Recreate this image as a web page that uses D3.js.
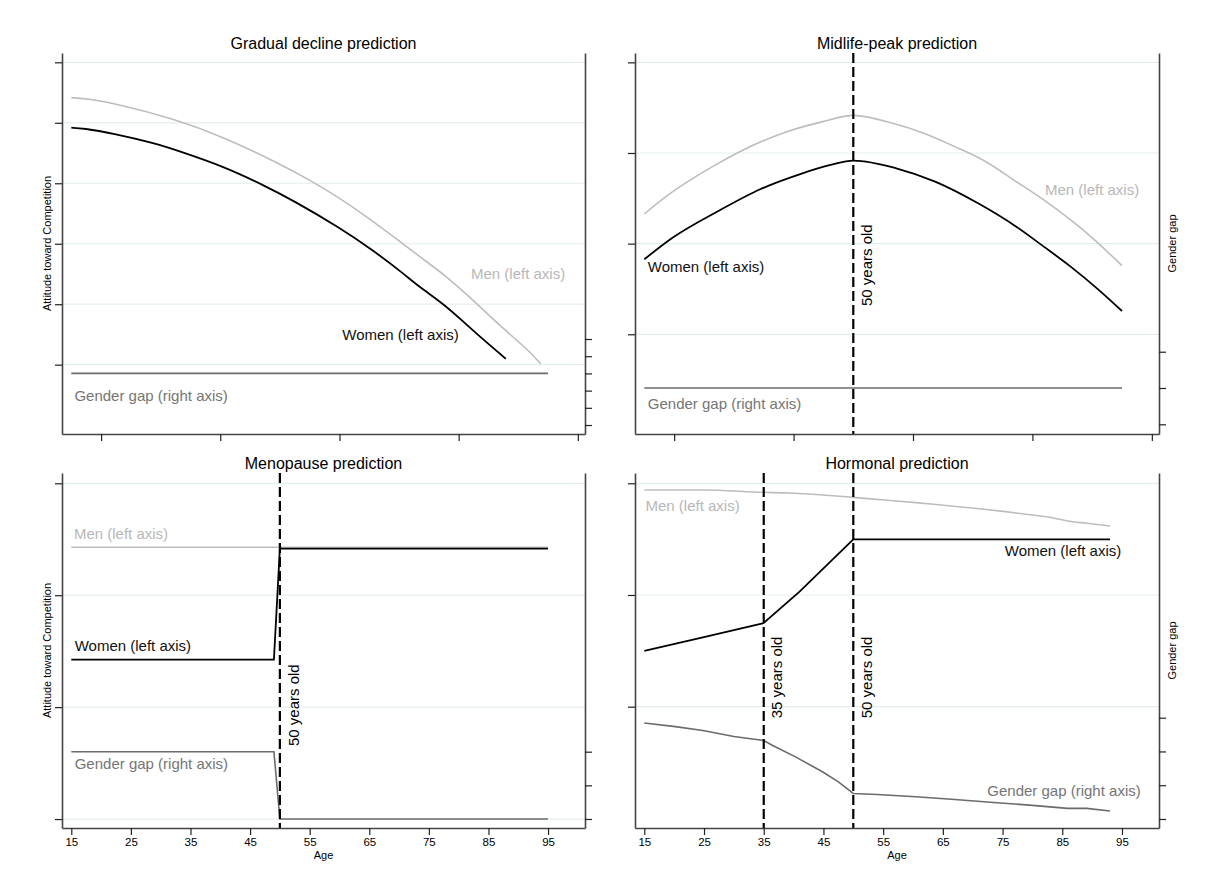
<!DOCTYPE html>
<html><head><meta charset="utf-8">
<script src="https://cdn.jsdelivr.net/npm/d3@7"></script>
<style>
body{margin:0;background:#fff}
svg{display:block}
text{font-family:"Liberation Sans",Arial,Helvetica,sans-serif}
</style>
</head><body>
<svg id="chart" width="1212" height="885"></svg>
<script>
// ---------------- DATA ----------------
// Gradual decline prediction
const gradMenAge   = [15, 18, 22.6, 32.0, 40.7, 49.8, 55.0, 59.5, 64.7, 69.3, 73.8, 78.0, 82.9, 87.4, 91.7, 93.8];
const gradMenVal   = [4.416, 4.394, 4.311, 4.074, 3.760, 3.330, 3.054, 2.790, 2.440, 2.100, 1.760, 1.460, 1.025, 0.601, 0.242, 0.011];
const gradWomenAge = [15, 17, 21.9, 29.1, 32.9, 40.7, 47.2, 52.4, 60.2, 65.4, 70.6, 73.2, 77.7, 80.9, 84.2, 87.9];
const gradWomenVal = [3.919, 3.910, 3.826, 3.660, 3.539, 3.274, 2.971, 2.707, 2.255, 1.907, 1.520, 1.300, 0.987, 0.700, 0.408, 0.099];
const gradGapAge   = [15, 95];
const gradGapVal   = [3, 3];

// Midlife-peak prediction
const midMenAge   = [15, 19, 26.7, 31.9, 38.4, 44.9, 50, 56.6, 61.8, 67.0, 72.2, 77.3, 81.9, 86.4, 90.3, 95];
const midMenVal   = [1.327, 1.537, 1.860, 2.044, 2.224, 2.346, 2.415, 2.327, 2.217, 2.070, 1.904, 1.684, 1.482, 1.261, 1.048, 0.757];
const midWomenAge = [15, 19.6, 27.4, 34.5, 41.0, 46.2, 50, 57.2, 63.7, 70.9, 77.3, 81.9, 86.4, 91.0, 95];
const midWomenVal = [0.827, 1.059, 1.360, 1.603, 1.765, 1.868, 1.915, 1.831, 1.684, 1.445, 1.187, 0.967, 0.746, 0.496, 0.257];
const midGapAge   = [15, 95];
const midGapVal   = [1, 1];

// Menopause prediction
const menoMenAge   = [15, 95];
const menoMenVal   = [2.428, 2.428];
const menoWomenAge = [15, 49, 50, 95];
const menoWomenVal = [1.424, 1.424, 2.416, 2.416];
const menoGapAge   = [15, 49, 50, 95];
const menoGapVal   = [1, 1, 0, 0];

// Hormonal prediction
const hormMenAge   = [15, 24.8, 34.9, 39.1, 44.9, 50, 55.3, 60.5, 65.1, 70.3, 75.5, 80, 83.3, 85.9, 89.1, 93];
const hormMenVal   = [1.940, 1.940, 1.919, 1.913, 1.895, 1.874, 1.850, 1.827, 1.803, 1.776, 1.746, 1.716, 1.692, 1.662, 1.642, 1.618];
const hormWomenAge = [15, 24.8, 35, 41, 50, 93];
const hormWomenVal = [0.499, 0.621, 0.749, 1.030, 1.498, 1.498];
const hormGapAge   = [15, 20.2, 24.8, 30, 35, 36.5, 40.4, 44.9, 47.5, 50, 54, 60.5, 67, 73.5, 80, 85.9, 89.1, 93];
const hormGapVal   = [2.843, 2.735, 2.618, 2.441, 2.324, 2.176, 1.833, 1.392, 1.098, 0.755, 0.725, 0.657, 0.578, 0.490, 0.402, 0.314, 0.314, 0.235];

// Axis ticks
const topAgeTicks    = [20, 40, 60, 80, 100];
const bottomAgeTicks = [15, 25, 35, 45, 55, 65, 75, 85, 95];
const gradLeftTicks  = [0, 1, 2, 3, 4, 5];
const gradRightTicks = [0, 1, 2, 3, 4, 5];
const midLeftTicks   = [0, 1, 2, 3];
const midRightTicks  = [0, 1, 2];
const menoLeftTicks  = [0, 1, 2, 3];
const menoRightTicks = [0, 0.5, 1];
const hormLeftTicks  = [0, 1, 2];
const hormRightTicks = [0, 1, 2, 3];

// Texts
const titles = ["Gradual decline prediction", "Midlife-peak prediction", "Menopause prediction", "Hormonal prediction"];
const menLabel = "Men (left axis)", womenLabel = "Women (left axis)", gapLabel = "Gender gap (right axis)";
const leftAxisTitle = "Attitude toward Competition", rightAxisTitle = "Gender gap", xAxisTitle = "Age";

// ---------------- LAYOUT ----------------
const ageDomain = [13.44, 101.2];
const COL = { men: "#bdbdbd", women: "#000", gap: "#6b6b6b", axis: "#444", grid: "#e3edef" };

const zip = (a, b) => a.map((v, i) => [v, b[i]]);

const panels = [
  { title: titles[0], box: {l: 62, r: 585, t: 53, b: 434},
    yL: [-1.146, 5.154], yR: [-0.523, 21.63], lt: gradLeftTicks, rt: gradRightTicks,
    men: zip(gradMenAge, gradMenVal), women: zip(gradWomenAge, gradWomenVal), gap: zip(gradGapAge, gradGapVal),
    curve: d3.curveBasis, menCurve: d3.curveBasis, xt: topAgeTicks, xlab: false, leftTitle: true, rightTitle: false, vlines: [],
    lab: { men: [409, 221], women: [280.3, 281.4], gap: [12.4, 342.7] } },
  { title: titles[1], box: {l: 635, r: 1159, t: 53, b: 434},
    yL: [-1.100, 3.103], yR: [-0.267, 10.23], lt: midLeftTicks, rt: midRightTicks,
    men: zip(midMenAge, midMenVal), women: zip(midWomenAge, midWomenVal), gap: zip(midGapAge, midGapVal),
    curve: d3.curveMonotoneX, menCurve: d3.curveMonotoneX, xt: topAgeTicks, xlab: false, leftTitle: false, rightTitle: true,
    vlines: [{age: 50, text: "50 years old", dx: 13, y0: 253}],
    lab: { men: [410, 137], women: [12.8, 213.7], gap: [12.8, 350.3] } },
  { title: titles[2], box: {l: 62, r: 585, t: 473, b: 828},
    yL: [-0.080, 3.092], yR: [-0.134, 5.141], lt: menoLeftTicks, rt: menoRightTicks,
    men: zip(menoMenAge, menoMenVal), women: zip(menoWomenAge, menoWomenVal), gap: zip(menoGapAge, menoGapVal),
    curve: d3.curveLinear, menCurve: d3.curveLinear, xt: bottomAgeTicks, xlab: true, leftTitle: true, rightTitle: false,
    vlines: [{age: 50, text: "50 years old", dx: 13.4, y0: 273}],
    lab: { men: [11.9, 61], women: [12.7, 173], gap: [12.7, 291] } },
  { title: titles[3], box: {l: 635, r: 1159, t: 473, b: 828},
    yL: [-1.086, 2.092], yR: [-0.267, 10.246], lt: hormLeftTicks, rt: hormRightTicks,
    men: zip(hormMenAge, hormMenVal), women: zip(hormWomenAge, hormWomenVal), gap: zip(hormGapAge, hormGapVal),
    curve: d3.curveLinear, menCurve: d3.curveMonotoneX, xt: bottomAgeTicks, xlab: true, leftTitle: false, rightTitle: true,
    vlines: [{age: 35, text: "35 years old", dx: 12.6, y0: 245.3}, {age: 50, text: "50 years old", dx: 13, y0: 245.3}],
    lab: { men: [10.5, 33], women: [369.8, 77.7], gap: [352.3, 318] } }
];

const svg = d3.select("#chart");

panels.forEach(p => {
  const B = p.box;
  const g = svg.append("g");
  const x  = d3.scaleLinear().domain(ageDomain).range([B.l, B.r]);
  const yL = d3.scaleLinear().domain(p.yL).range([B.b, B.t]);
  const yR = d3.scaleLinear().domain(p.yR).range([B.b, B.t]);

  // gridlines
  g.append("g").selectAll("line").data(p.lt).join("line")
    .attr("x1", B.l).attr("x2", B.r)
    .attr("y1", d => yL(d)).attr("y2", d => yL(d))
    .attr("stroke", COL.grid).attr("stroke-width", 1.2);

  // lines
  const lineL = (curve) => d3.line().x(d => x(d[0])).y(d => yL(d[1])).curve(curve);
  const lineR = d3.line().x(d => x(d[0])).y(d => yR(d[1]));

  g.append("path").datum(p.gap).attr("d", lineR)
    .attr("fill", "none").attr("stroke", COL.gap).attr("stroke-width", 1.6);
  g.append("path").datum(p.men).attr("d", lineL(p.menCurve))
    .attr("fill", "none").attr("stroke", COL.men).attr("stroke-width", 1.6);
  g.append("path").datum(p.women).attr("d", lineL(p.curve))
    .attr("fill", "none").attr("stroke", COL.women).attr("stroke-width", 1.8);

  // dashed reference lines
  p.vlines.forEach(v => {
    g.append("line").attr("x1", x(v.age)).attr("x2", x(v.age))
      .attr("y1", B.t).attr("y2", B.b)
      .attr("stroke", "#000").attr("stroke-width", 2.2).attr("stroke-dasharray", "10,4");
    const tx = x(v.age) + v.dx, ty = B.t + v.y0;
    g.append("text").attr("transform", `translate(${tx},${ty}) rotate(-90)`)
      .attr("dy", "0.35em").attr("font-size", 15).attr("fill", "#000").text(v.text);
  });

  // axes
  const styleAxis = sel => {
    sel.selectAll("path.domain").attr("stroke", COL.axis).attr("stroke-width", 1.6);
    sel.selectAll(".tick line").attr("stroke", "#222").attr("stroke-width", 1.2);
  };
  g.append("g").attr("transform", `translate(${B.l},0)`)
    .call(d3.axisLeft(yL).tickValues(p.lt).tickSize(7).tickSizeOuter(0).tickFormat(""))
    .call(styleAxis);
  g.append("g").attr("transform", `translate(${B.r},0)`)
    .call(d3.axisRight(yR).tickValues(p.rt).tickSize(7).tickSizeOuter(0).tickFormat(""))
    .call(styleAxis);
  const xa = d3.axisBottom(x).tickValues(p.xt).tickSize(7).tickSizeOuter(0).tickPadding(3)
    .tickFormat(p.xlab ? d3.format("d") : "");
  const xg = g.append("g").attr("transform", `translate(0,${B.b})`).call(xa).call(styleAxis);
  xg.selectAll("text").attr("font-size", 11.5).attr("fill", "#000")
    .attr("font-family", "'Liberation Sans',Arial,sans-serif");

  // titles
  g.append("text").attr("x", (B.l + B.r) / 2).attr("y", B.t - 10).attr("dy", "0.35em")
    .attr("text-anchor", "middle").attr("font-size", 16).attr("fill", "#000").text(p.title);
  if (p.xlab) {
    g.append("text").attr("x", (B.l + B.r) / 2).attr("y", B.b + 27).attr("dy", "0.35em")
      .attr("text-anchor", "middle").attr("font-size", 11).attr("fill", "#000").text(xAxisTitle);
  }
  if (p.leftTitle) {
    g.append("text").attr("transform", `translate(${B.l - 14.7},${(B.t + B.b) / 2}) rotate(-90)`)
      .attr("dy", "0.35em").attr("text-anchor", "middle").attr("font-size", 11).attr("fill", "#000")
      .text(leftAxisTitle);
  }
  if (p.rightTitle) {
    g.append("text").attr("transform", `translate(${B.r + 13},${(B.t + B.b) / 2}) rotate(-90)`)
      .attr("dy", "0.35em").attr("text-anchor", "middle").attr("font-size", 11).attr("fill", "#000")
      .text(rightAxisTitle);
  }

  // series labels
  const addLab = (pos, txt, col) => g.append("text")
    .attr("x", B.l + pos[0]).attr("y", B.t + pos[1]).attr("dy", "0.35em")
    .attr("font-size", 15).attr("fill", col).text(txt);
  addLab(p.lab.men, menLabel, "#b8b8b8");
  addLab(p.lab.women, womenLabel, "#111");
  addLab(p.lab.gap, gapLabel, "#757575");
});
</script>
</body></html>
